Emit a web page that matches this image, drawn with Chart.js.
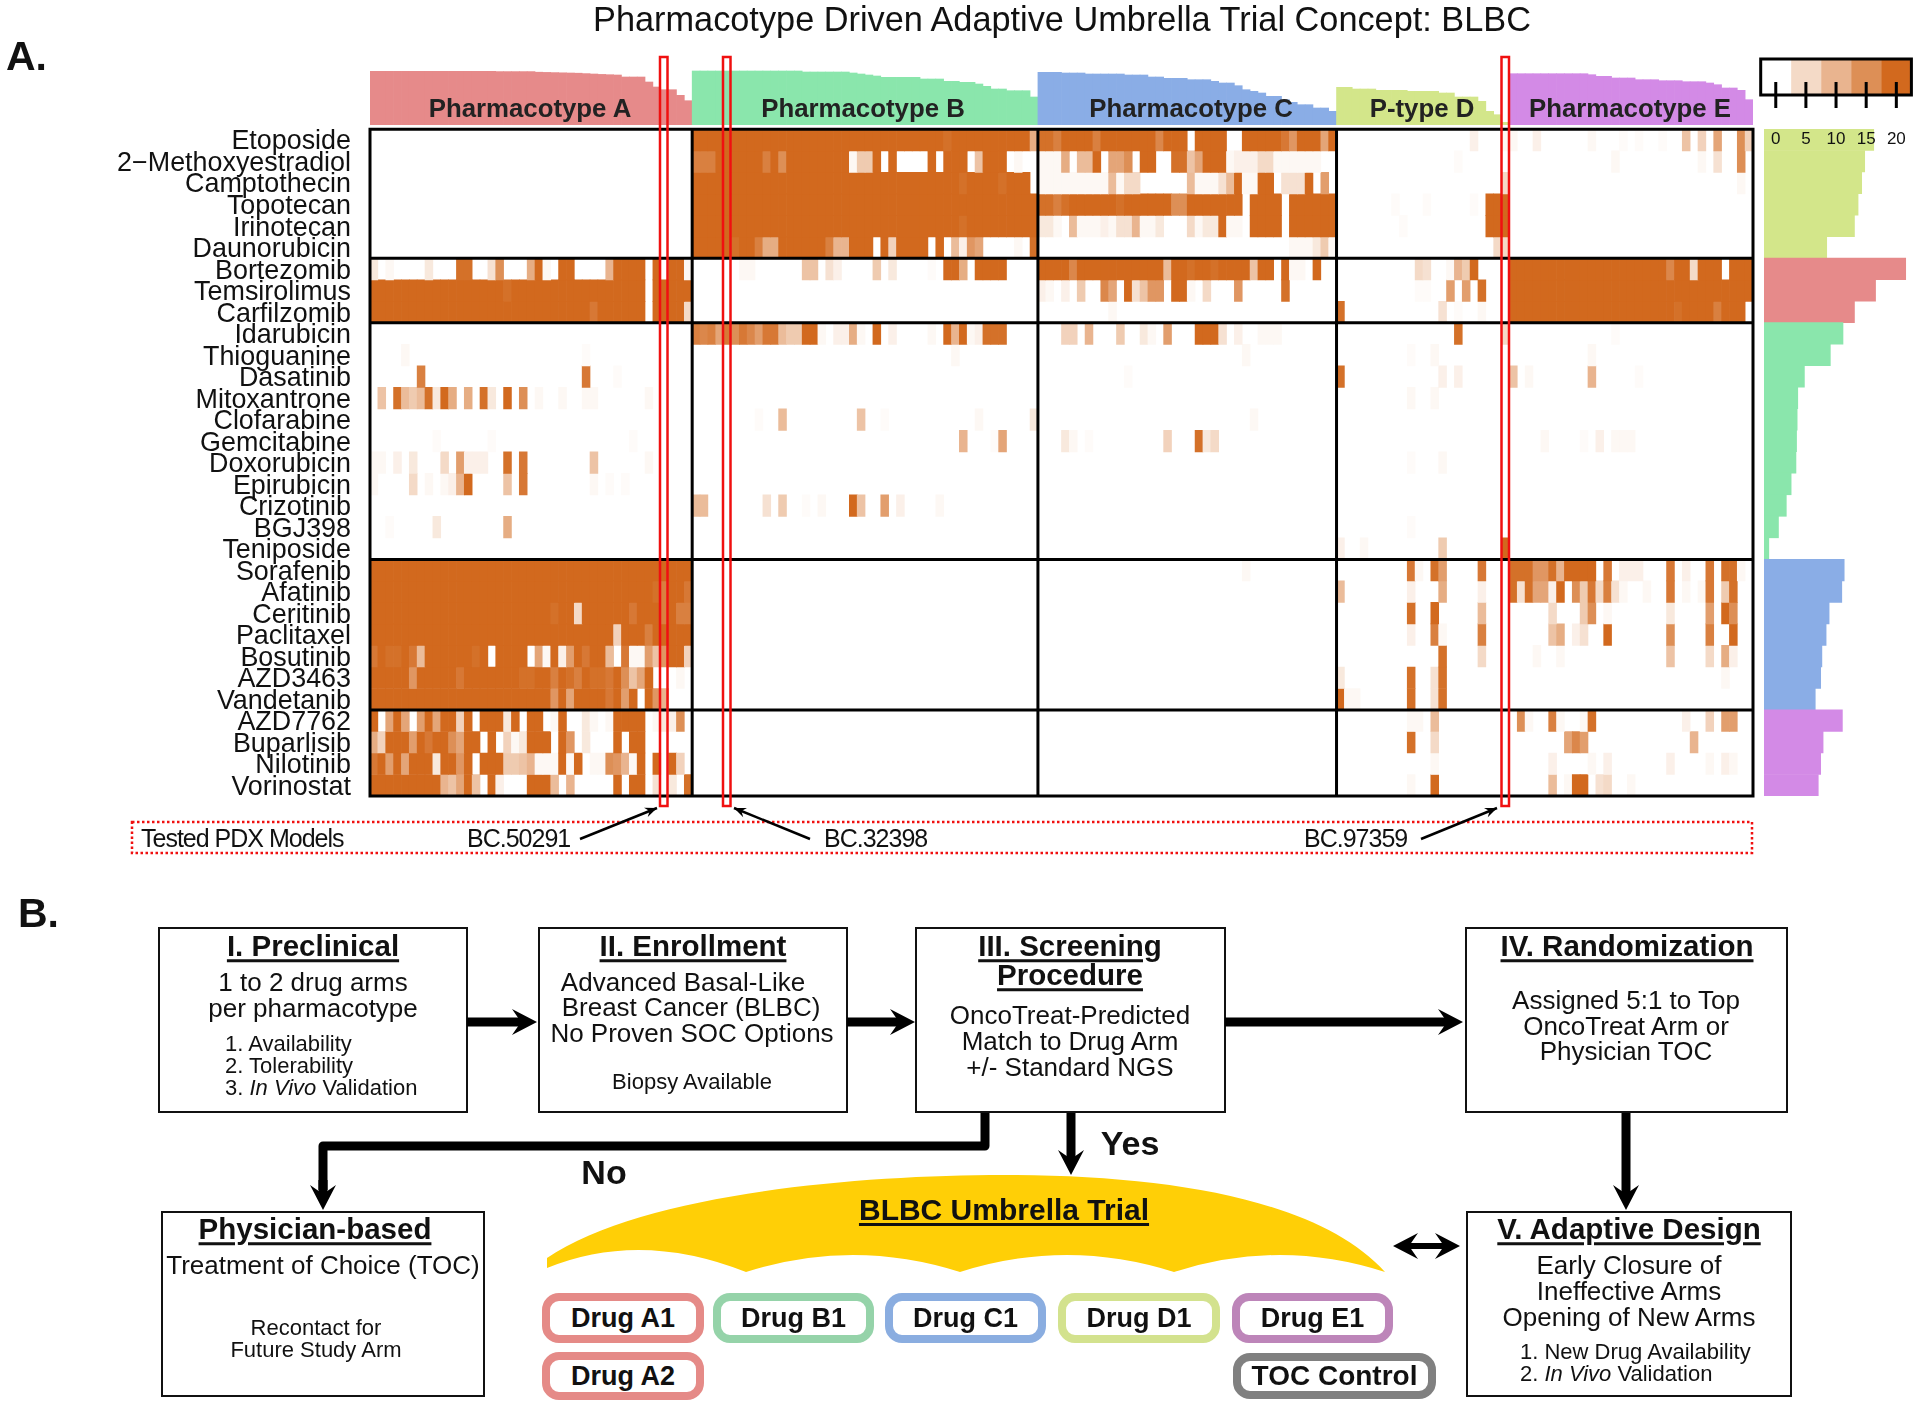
<!DOCTYPE html>
<html>
<head>
<meta charset="utf-8">
<title>Pharmacotype Driven Adaptive Umbrella Trial Concept: BLBC</title>
<script src="https://cdn.jsdelivr.net/npm/chart.js@4/dist/chart.umd.js"></script>
<style>
  html, body { margin: 0; padding: 0; background: #fff; }
  #page { position: relative; width: 1920px; height: 1407px; overflow: hidden; font-family: "Liberation Sans", Arial, sans-serif; color: #111; }
  canvas { position: absolute; }
  svg { position: absolute; left: 0; top: 0; }
  .t { position: absolute; white-space: nowrap; transform: translate(-50%, -50%); line-height: 1; }
  .l { position: absolute; white-space: nowrap; transform: translateY(-50%); line-height: 1; }
  .head { font-weight: bold; font-size: 29.5px; text-decoration: underline; text-decoration-thickness: 3px; text-underline-offset: 3px; }
  .body { font-size: 26px; }
  .small { font-size: 22px; }
  .type { font-weight: bold; font-size: 25.8px; color: #222; }
  .tight { font-size: 25px; letter-spacing: -1px; }
  .box { position: absolute; box-sizing: border-box; border: 2.5px solid #111; background: #fff; }
  .pill { position: absolute; box-sizing: border-box; border-style: solid; border-width: 8px; border-radius: 17px; background: #fff;
          display: flex; align-items: center; justify-content: center; font-weight: bold; font-size: 27px; }
</style>
</head>
<body>
<div id="page">
  <canvas id="topChart" width="1383" height="60" style="left:370px;top:65.3px"></canvas>
  <canvas id="heatChart" width="1760" height="700" style="left:0;top:120px"></canvas>
  <canvas id="sideChart" width="156" height="667" style="left:1764px;top:129.3px"></canvas>
  <canvas id="legendChart" width="170" height="110" style="left:1750px;top:50px"></canvas>

  <div class="box" style="left:158px;top:927px;width:310px;height:186px"></div>
  <div class="box" style="left:538px;top:927px;width:310px;height:186px"></div>
  <div class="box" style="left:915px;top:927px;width:311px;height:186px"></div>
  <div class="box" style="left:1465px;top:927px;width:323px;height:186px"></div>
  <div class="box" style="left:161px;top:1211px;width:324px;height:186px"></div>
  <div class="box" style="left:1466px;top:1211px;width:326px;height:186px"></div>

  <svg id="overlay" width="1920" height="1407" viewBox="0 0 1920 1407">
    <path d="M547,1268 L547,1258 C640,1195 850,1175 1004,1175 C1170,1175 1320,1200 1385,1272 Q1280,1238 1174,1272 Q1067,1238 960,1272 Q853,1238 746,1272 Q640,1230 547,1268 Z" fill="#FFCF06"/>
    <rect x="660" y="57" width="7.5" height="749" fill="none" stroke="#f01010" stroke-width="2.5"/>
    <rect x="723" y="57" width="7.5" height="749" fill="none" stroke="#f01010" stroke-width="2.5"/>
    <rect x="1501.5" y="57" width="7.5" height="749" fill="none" stroke="#f01010" stroke-width="2.5"/>
    <rect x="132" y="822" width="1620" height="31" fill="none" stroke="#f01010" stroke-width="2.5" stroke-dasharray="2.5 2.5"/>
    <polyline points="985,1113 985,1146 323,1146 323,1190" fill="none" stroke="#000" stroke-width="9" stroke-linejoin="round"/>
  </svg>

  <div class="t" style="left:1062px;top:19px;font-size:34.3px">Pharmacotype Driven Adaptive Umbrella Trial Concept: BLBC</div>
  <div class="l" style="left:6px;top:56px;font-size:41px;font-weight:bold">A.</div>
  <div class="l" style="left:18px;top:913px;font-size:41px;font-weight:bold">B.</div>

  <div class="t type" style="left:530px;top:109px">Pharmacotype A</div>
  <div class="t type" style="left:863px;top:109px">Pharmacotype B</div>
  <div class="t type" style="left:1191px;top:109px">Pharmacotype C</div>
  <div class="t type" style="left:1422px;top:109px">P-type D</div>
  <div class="t type" style="left:1630px;top:109px">Pharmacotype E</div>

  <div class="l tight" style="left:141px;top:838px">Tested PDX Models</div>
  <div class="l tight" style="left:467px;top:838px">BC.50291</div>
  <div class="l tight" style="left:824px;top:838px">BC.32398</div>
  <div class="l tight" style="left:1304px;top:838px">BC.97359</div>

  <div class="t head" style="left:313px;top:946px">I. Preclinical</div>
  <div class="t body" style="left:313px;top:982px">1 to 2 drug arms</div>
  <div class="t body" style="left:313px;top:1008px">per pharmacotype</div>
  <div class="l small" style="left:225px;top:1044px">1. Availability</div>
  <div class="l small" style="left:225px;top:1066px">2. Tolerability</div>
  <div class="l small" style="left:225px;top:1088px">3. <i>In Vivo</i> Validation</div>

  <div class="t head" style="left:693px;top:946px">II. Enrollment</div>
  <div class="t body" style="left:683px;top:982px">Advanced Basal-Like</div>
  <div class="t body" style="left:691px;top:1007px">Breast Cancer (BLBC)</div>
  <div class="t body" style="left:692px;top:1033px">No Proven SOC Options</div>
  <div class="t small" style="left:692px;top:1082px">Biopsy Available</div>

  <div class="t head" style="left:1070px;top:946px">III. Screening</div>
  <div class="t head" style="left:1070px;top:975px">Procedure</div>
  <div class="t body" style="left:1070px;top:1015px">OncoTreat-Predicted</div>
  <div class="t body" style="left:1070px;top:1041px">Match to Drug Arm</div>
  <div class="t body" style="left:1070px;top:1067px">+/- Standard NGS</div>

  <div class="t head" style="left:1627px;top:946px">IV. Randomization</div>
  <div class="t body" style="left:1626px;top:1000px">Assigned 5:1 to Top</div>
  <div class="t body" style="left:1626px;top:1026px">OncoTreat Arm or</div>
  <div class="t body" style="left:1626px;top:1051px">Physician TOC</div>

  <div class="t head" style="left:315px;top:1229px">Physician-based</div>
  <div class="t body" style="left:323px;top:1265px">Treatment of Choice (TOC)</div>
  <div class="t small" style="left:316px;top:1328px">Recontact for</div>
  <div class="t small" style="left:316px;top:1350px">Future Study Arm</div>

  <div class="t head" style="left:1629px;top:1229px">V. Adaptive Design</div>
  <div class="t body" style="left:1629px;top:1265px">Early Closure of</div>
  <div class="t body" style="left:1629px;top:1291px">Ineffective Arms</div>
  <div class="t body" style="left:1629px;top:1317px">Opening of New Arms</div>
  <div class="l small" style="left:1520px;top:1352px">1. New Drug Availability</div>
  <div class="l small" style="left:1520px;top:1374px">2. <i>In Vivo</i> Validation</div>

  <div class="t" style="left:1130px;top:1143px;font-size:34px;font-weight:bold">Yes</div>
  <div class="t" style="left:604px;top:1172px;font-size:34px;font-weight:bold">No</div>
  <div class="t" style="left:1004px;top:1210px;font-size:30px;font-weight:bold;text-decoration:underline;text-underline-offset:3px">BLBC Umbrella Trial</div>

  <div class="pill" style="left:542px;top:1293px;width:162px;height:50px;border-color:#E58A87">Drug A1</div>
  <div class="pill" style="left:713px;top:1293px;width:161px;height:50px;border-color:#95D3A9">Drug B1</div>
  <div class="pill" style="left:885px;top:1293px;width:161px;height:50px;border-color:#8AADE0">Drug C1</div>
  <div class="pill" style="left:1058px;top:1293px;width:162px;height:50px;border-color:#D3E28E">Drug D1</div>
  <div class="pill" style="left:1232px;top:1293px;width:161px;height:50px;border-color:#BD85B9">Drug E1</div>
  <div class="pill" style="left:542px;top:1352px;width:162px;height:48px;border-color:#E58A87">Drug A2</div>
  <div class="pill" style="left:1233px;top:1353px;width:203px;height:46px;border-color:#808080;font-size:28px">TOC Control</div>
</div>

<script>
// row labels
const drugs = ['Etoposide', '2\u2212Methoxyestradiol', 'Camptothecin', 'Topotecan', 'Irinotecan', 'Daunorubicin',
	'Bortezomib', 'Temsirolimus', 'Carfilzomib',
	'Idarubicin', 'Thioguanine', 'Dasatinib', 'Mitoxantrone', 'Clofarabine', 'Gemcitabine', 'Doxorubicin', 'Epirubicin', 'Crizotinib', 'BGJ398', 'Teniposide',
	'Sorafenib', 'Afatinib', 'Ceritinib', 'Paclitaxel', 'Bosutinib', 'AZD3463', 'Vandetanib',
	'AZD7762', 'Buparlisib', 'Nilotinib', 'Vorinostat'];
const rowBreaks = [0, 6, 9, 20, 27, 31];

// models per pharmacotype, and the lines between them (D and E share no line)
const sectionSizes = [41, 44, 38, 22, 31];
const columnBreaks = [0, 41, 85, 123, 176];

// heat cells as [row, fromColumn, toColumn, value], columns counted inside each pharmacotype, later runs overwrite
const cellsA = [
	[6,0,0,3],[6,2,2,1],[6,7,7,3],[6,11,12,19],[6,15,15,4],[6,16,16,15],[6,20,20,11],[6,21,21,20],[6,22,22,1],[6,24,25,20],[6,30,30,10],[6,31,34,20],[6,36,36,20],[6,38,39,20],[6,40,40,1],
	[7,0,40,20],[7,17,17,19],[7,35,35,0],
	[8,0,40,20],[8,28,28,18],[8,35,35,0],[8,40,40,5],
	[10,4,4,1],[10,27,27,0.5],
	[11,6,6,17],[11,27,27,18],[11,31,31,0.5],
	[12,1,1,8],[12,3,3,19],[12,4,4,9],[12,5,5,7],[12,6,6,9],[12,7,7,19],[12,8,8,3],[12,9,9,20],[12,10,10,11],[12,12,12,11],[12,14,14,19],[12,15,15,3],[12,17,17,20],[12,19,19,15],[12,21,21,1],[12,24,24,1],[12,27,28,1],[12,35,35,1],
	[14,8,8,0.5],[14,15,15,0.5],[14,33,33,0.5],
	[15,0,1,1],[15,3,3,2],[15,5,5,3],[15,9,9,5],[15,11,11,13],[15,12,14,2],[15,17,17,19],[15,19,19,18],[15,28,28,8],[15,35,35,1],
	[16,0,0,1],[16,5,5,5],[16,7,7,1],[16,9,9,1],[16,10,10,2],[16,11,11,10],[16,12,12,20],[16,17,17,8],[16,19,19,18],[16,28,28,1],[16,30,30,0.5],[16,32,32,0.5],
	[18,2,2,0.5],[18,8,8,3],[18,17,17,11],
	[20,0,40,20],
	[21,0,40,20],[21,36,36,19],[21,37,37,17],[21,40,40,18],
	[22,0,40,20],[22,23,23,19],[22,26,26,5],[22,33,33,18],[22,37,37,17],[22,39,40,17],
	[23,0,40,20],[23,31,31,6],[23,35,35,17],
	[24,0,40,20],[24,0,0,18],[24,2,3,19],[24,5,5,18],[24,6,6,9],[24,13,13,19],[24,15,15,0],[24,20,20,0],[24,21,21,12],[24,22,22,1],[24,24,24,2],[24,25,25,13],[24,27,27,18],[24,30,30,9],[24,31,31,0],[24,32,32,18],[24,33,34,1],[24,35,35,13],[24,36,36,8],[24,37,37,14],[24,40,40,6],
	[25,0,40,20],[25,5,5,14],[25,11,11,18],[25,19,20,19],[25,23,23,17],[25,25,25,19],[25,26,26,17],[25,28,29,19],[25,30,30,18],[25,32,32,15],[25,33,33,8],[25,34,34,12],[25,36,38,0],[25,39,39,1],[25,40,40,0],
	[26,0,40,20],[26,23,23,14],[26,25,25,12],[26,30,30,18],[26,32,32,13],[26,34,34,0],[26,36,36,14],[26,37,37,10],[26,38,40,0],
	[27,0,0,20],[27,2,2,12],[27,3,3,20],[27,4,4,12],[27,6,6,13],[27,7,7,20],[27,8,8,12],[27,9,10,20],[27,11,11,6],[27,12,12,20],[27,14,16,20],[27,17,17,3],[27,18,18,20],[27,20,21,20],[27,23,23,1],[27,24,24,20],[27,27,27,3],[27,28,28,1],[27,30,30,1],[27,31,34,20],[27,36,36,1],[27,37,37,3],[27,38,38,2],[27,39,39,15],
	[28,0,0,11],[28,1,1,6],[28,2,4,20],[28,5,5,13],[28,6,6,20],[28,7,7,18],[28,8,9,20],[28,10,10,15],[28,11,11,12],[28,12,13,20],[28,15,15,20],[28,17,17,6],[28,18,18,1],[28,19,19,3],[28,20,22,20],[28,24,24,20],[28,25,25,14],[28,27,27,3],[28,31,31,20],[28,33,34,20],
	[29,0,0,18],[29,1,1,20],[29,2,2,13],[29,3,3,20],[29,4,4,12],[29,5,7,20],[29,8,8,3],[29,9,10,20],[29,11,11,14],[29,12,12,20],[29,14,16,20],[29,17,18,7],[29,19,19,8],[29,20,20,10],[29,21,23,1],[29,24,24,20],[29,25,25,1],[29,26,26,20],[29,28,29,1],[29,30,30,15],[29,31,31,14],[29,32,32,10],[29,33,33,1],[29,34,34,20],[29,36,36,20],[29,38,38,20],[29,39,39,6],
	[30,0,8,20],[30,9,9,10],[30,10,10,8],[30,11,11,12],[30,12,12,20],[30,13,13,8],[30,15,15,20],[30,16,16,2],[30,20,22,20],[30,23,23,9],[30,25,25,10],[30,31,31,20],[30,33,34,20],[30,36,36,4],[30,38,38,3],[30,40,40,19]
];
const cellsB = [
	[0,0,42,20],[0,32,32,19],[0,43,43,11],
	[1,0,2,17],[1,3,19,20],[1,9,9,17],[1,11,11,15],[1,20,20,1],[1,21,22,7],[1,23,23,20],[1,25,25,20],[1,30,30,20],[1,32,34,20],[1,36,36,8],[1,37,39,20],[1,41,41,1],
	[2,0,42,20],[2,34,34,19],[2,39,39,19],
	[3,0,43,20],
	[4,0,43,20],[4,34,34,19],
	[5,0,22,20],[5,5,5,19],[5,8,8,17],[5,9,10,11],[5,17,17,17],[5,18,19,10],[5,24,24,20],[5,25,25,6],[5,26,29,20],[5,31,31,20],[5,33,33,9],[5,34,34,2],[5,35,35,14],[5,36,36,12],[5,41,41,1],[5,43,43,19],
	[6,6,7,1],[6,14,15,8],[6,17,17,4],[6,18,18,2],[6,23,23,7],[6,25,25,3],[6,30,30,0.5],[6,32,33,20],[6,34,34,11],[6,36,39,20],
	[9,0,0,17],[9,1,1,16],[9,2,2,17],[9,3,3,12],[9,4,4,18],[9,5,5,15],[9,6,6,18],[9,7,7,16],[9,8,8,13],[9,9,10,18],[9,11,11,9],[9,12,13,7],[9,14,15,20],[9,16,16,1],[9,18,19,2],[9,20,20,11],[9,21,21,1],[9,23,23,20],[9,25,25,2],[9,30,30,1],[9,32,32,20],[9,33,33,10],[9,34,34,20],[9,35,35,1],[9,36,36,2],[9,37,39,19],
	[10,33,33,1],
	[13,8,8,0.5],[13,11,11,9],[13,21,21,8],[13,24,24,0.5],[13,36,36,1],[13,43,43,3],
	[14,34,34,10],[14,38,38,0.5],[14,39,39,12],
	[17,0,1,9],[17,9,9,4],[17,11,11,7],[17,14,14,0.5],[17,16,16,1],[17,20,20,20],[17,21,21,8],[17,24,24,13],[17,26,26,2],[17,31,31,1]
];
const cellsC = [
	[0,0,18,20],[0,0,1,19],[0,2,2,17],[0,7,7,17],[0,15,15,16],[0,20,23,20],[0,26,30,20],[0,31,31,18],[0,32,32,14],[0,33,35,20],[0,36,36,12],[0,37,37,20],
	[1,0,2,1],[1,3,3,11],[1,5,6,9],[1,7,7,20],[1,9,10,12],[1,11,11,15],[1,13,14,20],[1,17,18,19],[1,19,19,8],[1,20,20,12],[1,21,23,20],[1,24,24,1],[1,25,27,2],[1,28,29,5],[1,30,35,1],
	[2,0,8,1],[2,9,9,9],[2,10,10,1],[2,11,12,5],[2,19,19,9],[2,20,22,1],[2,23,23,4],[2,24,24,9],[2,25,25,20],[2,26,27,1],[2,28,29,20],[2,31,33,4],[2,34,34,20],[2,36,36,13],
	[3,0,25,20],[3,0,1,19],[3,2,2,17],[3,3,3,19],[3,10,10,19],[3,17,18,15],[3,27,30,20],[3,32,37,20],
	[4,0,1,3],[4,2,2,1],[4,4,4,9],[4,5,7,1],[4,8,8,2],[4,9,9,1],[4,10,11,4],[4,12,12,10],[4,13,14,1],[4,15,15,3],[4,19,19,5],[4,20,20,1],[4,21,22,3],[4,23,23,20],[4,24,25,1],[4,27,30,20],[4,32,37,20],
	[5,32,34,1],[5,35,35,3],[5,36,36,7],[5,37,37,1],
	[6,0,26,20],[6,4,4,16],[6,16,16,9],[6,19,19,19],[6,22,22,19],[6,27,27,8],[6,28,29,20],[6,31,31,20],[6,32,33,1],[6,35,35,20],
	[7,0,0,2],[7,1,1,1],[7,3,3,2],[7,5,5,7],[7,8,8,16],[7,9,9,12],[7,11,11,20],[7,12,12,4],[7,13,13,8],[7,14,15,14],[7,17,18,20],[7,19,19,1],[7,21,21,5],[7,25,25,14],[7,31,31,19],
	[8,9,9,1],
	[9,3,4,6],[9,6,6,10],[9,10,10,7],[9,13,13,3],[9,14,14,1],[9,16,16,13],[9,20,22,20],[9,23,23,4],[9,25,25,2],[9,28,30,1],
	[10,26,26,1],
	[11,11,11,0.5],
	[13,27,27,1],
	[14,3,3,3],[14,4,4,1],[14,6,6,0.5],[14,16,16,6],[14,20,20,19],[14,21,21,3],[14,22,22,5],
	[20,26,26,1]
];
const cellsD = [
	[0,17,17,2],[0,21,21,1],
	[1,15,15,0.5],
	[2,21,21,5],
	[3,7,7,0.5],[3,11,11,0.5],[3,17,17,0.5],[3,19,21,20],
	[4,8,8,0.5],[4,19,21,20],
	[5,20,21,5],
	[6,10,10,5],[6,11,11,4],[6,14,14,1],[6,15,15,10],[6,16,16,7],[6,17,17,20],
	[7,10,11,0.5],[7,14,14,13],[7,16,16,13],[7,18,18,19],
	[8,0,0,19],[8,13,13,4],[8,15,15,0.5],[8,18,18,1],
	[9,15,15,19],[9,21,21,5],
	[10,9,9,0.5],[10,12,12,1],
	[11,0,0,19],[11,13,13,2],[11,15,15,2],
	[12,9,9,1],[12,12,12,1],
	[15,9,9,0.5],[15,13,13,1],
	[18,9,9,0.5],
	[19,0,0,2],[19,3,3,1],[19,13,13,7],[19,21,21,20],
	[20,9,9,18],[20,10,10,1],[20,12,12,19],[20,13,13,13],[20,18,18,18],
	[21,0,0,9],[21,9,9,2],[21,13,13,11],[21,18,18,2],
	[22,9,9,19],[22,12,12,20],[22,18,18,9],
	[23,9,9,2],[23,12,12,17],[23,13,13,1],[23,18,18,17],
	[24,13,13,19],[24,18,18,5],
	[25,0,0,3],[25,9,9,19],[25,12,12,4],[25,13,13,19],
	[26,0,0,20],[26,1,2,1],[26,9,9,19],[26,12,12,4],[26,13,13,19],
	[27,9,10,1],[27,12,12,9],
	[28,9,9,19],[28,12,12,5],
	[29,12,12,1],
	[30,9,9,1],[30,12,12,20]
];
const cellsE = [
	[0,0,0,1],[0,3,3,2],[0,10,10,1],[0,14,14,0.5],[0,16,16,0.5],[0,19,19,0.5],[0,22,22,8],[0,24,24,6],[0,26,26,12],[0,29,29,15],[0,30,30,6],
	[1,13,13,1],[1,24,24,1],[1,26,26,4],[1,29,29,15],
	[2,29,29,1],
	[6,0,30,20],[6,20,20,16],[6,23,23,5],[6,27,27,0],
	[7,0,30,20],
	[8,0,29,20],[8,21,21,19],[8,26,26,17],
	[9,13,13,0.5],
	[10,10,10,1],
	[11,0,0,8],[11,2,2,1],[11,10,10,10],[11,16,16,0.5],
	[14,4,4,1],[14,9,9,0.5],[14,11,11,2],[14,13,15,1],
	[20,0,2,19],[20,3,4,14],[20,5,5,19],[20,6,6,10],[20,7,10,20],[20,12,12,18],[20,14,16,2],[20,20,20,18],[20,22,22,2],[20,25,25,18],[20,27,28,19],[20,29,29,1],
	[21,0,0,19],[21,1,1,4],[21,2,2,19],[21,3,4,12],[21,5,5,2],[21,6,6,20],[21,8,8,15],[21,9,9,7],[21,10,10,18],[21,11,11,5],[21,12,12,17],[21,13,13,4],[21,14,14,1],[21,17,17,1],[21,20,20,18],[21,22,22,1],[21,24,24,1],[21,25,25,18],[21,27,27,7],[21,28,28,19],
	[22,5,5,5],[22,9,9,7],[22,10,10,15],[22,12,12,1],[22,20,20,3],[22,25,25,13],[22,27,27,20],[22,28,28,15],
	[23,5,5,8],[23,6,6,11],[23,8,8,2],[23,9,9,4],[23,12,12,20],[23,20,20,15],[23,25,25,17],[23,28,28,20],
	[24,3,3,1],[24,6,6,1],[24,20,20,8],[24,25,25,5],[24,27,27,11],[24,28,28,2],
	[25,27,27,1],
	[27,1,1,15],[27,2,2,1],[27,5,5,17],[27,6,6,1],[27,9,9,1],[27,10,10,19],[27,22,22,2],[27,25,25,6],[27,27,28,13],
	[28,7,7,12],[28,8,8,16],[28,9,9,13],[28,23,23,10],
	[29,5,5,2],[29,10,10,1],[29,12,12,2],[29,20,20,2],[29,25,25,1],[29,27,27,2],[29,28,28,1],
	[30,5,5,9],[30,7,7,1],[30,8,9,20],[30,11,11,4],[30,12,12,5],[30,15,15,1]
];

// bars above the heatmap, one per model
const scoresA = [53.7,53.7,53.7,53.7,53.7,53.7,53.7,53.7,53.7,53.7,53.7,53.7,53.7,53.7,53.7,53.7,53.4,53.4,53.4,53.4,53.4,52.8,52.6,52.4,52.2,52,51.8,51.4,51,50.6,50.3,50,48,48,48,43,38,35.3,35.3,29.7,24.3];
const scoresB = [54,54,54,54,54,54,54,54,54,54,54,54,54,54,53,53,53,53,53,53,52,51,50,49,47.7,47.7,47.7,47.7,47.7,46,46,46,43.7,43.7,42.7,42.7,41,38.7,36,36,34.3,34.3,34.3,28];
const scoresC = [52.7,52.7,52.7,52,52,52,51,51,51,51,51,50,50,50,48,48,46.7,46.7,46.7,45.3,45.3,45.3,43.7,42,42,39.3,35.3,33.7,32,28.7,28.7,25.3,22.7,20.3,20.3,17,17,13.7];
const scoresD = [37.7,37.7,36,36,36,34.7,34.7,34.7,34.7,33.7,33.7,33.7,33.7,32,32,28,28,28,23.7,13.7,10.3,2.7];
const scoresE = [51.3,51.3,51.3,51.3,51.3,51.3,51.3,51.3,51.3,51.3,50.3,48.7,48.7,47,47,47,45.3,45.3,45.3,44.3,44.3,44.3,43.3,43.3,43.3,42,40.3,37,37,34.7,25.3];

// bars right of the heatmap, one per drug
const drugTotals = [18.2,16.7,16.2,15.6,15,10.4, 23.5,18.5,15, 13.1,11,6.7,5.6,5.5,5.4,5.3,4.5,3.7,2.4,0.8, 13.3,12.9,10.8,10.3,9.6,9.4,8.5, 13,9.8,9.4,9];
const drugGroupSizes = [6, 3, 11, 7, 4];

// colour key
const legendTicks = [0, 5, 10, 15, 20];
const legendBins = [[-2.5, 2.5], [2.5, 7.5], [7.5, 12.5], [12.5, 17.5], [17.5, 22.5]];

const sectionColors = ['#E68A8A', '#8AE6AC', '#8AADE6', '#D3E68A', '#D38AE6'];
const sideGroupColors = ['#D3E68A', '#E68A8A', '#8AE6AC', '#8AADE6', '#D38AE6'];

const heatColor = value => {
	const t = Math.min(value, 20) / 20;
	return `rgb(${Math.round(255 - 45 * t)}, ${Math.round(255 - 150 * t)}, ${Math.round(255 - 225 * t)})`;
};

const columnCount = sectionSizes.reduce((a, b) => a + b, 0);
const models = Array.from({ length: columnCount }, (_, i) => `model ${i + 1}`);
const matrix = drugs.map(() => new Array(columnCount).fill(0));

let sectionStart = 0;
[cellsA, cellsB, cellsC, cellsD, cellsE].forEach((cells, s) => {
	cells.forEach(([row, from, to, value]) => {
		for (let c = from; c <= to; c++) matrix[row][sectionStart + c] = value;
	});
	sectionStart += sectionSizes[s];
});

const heatDatasets = drugs.map((drug, row) => ({
	label: drug,
	data: matrix[row].map(v => (v > 0 ? [row, row + 1] : null)),
	backgroundColor: matrix[row].map(heatColor),
	borderWidth: 0,
	barPercentage: 1,
	categoryPercentage: 1,
}));

const framePlugin = {
	id: 'frame',
	afterDatasetsDraw(chart) {
		const { ctx, chartArea: area, scales } = chart;
		ctx.save();
		ctx.strokeStyle = '#000';
		ctx.lineWidth = 3;
		ctx.beginPath();
		rowBreaks.forEach(b => {
			const y = scales.y.getPixelForValue(b);
			ctx.moveTo(area.left - 1.5, y);
			ctx.lineTo(area.right + 1.5, y);
		});
		columnBreaks.forEach(b => {
			const x = area.left + (b / columnCount) * area.width;
			ctx.moveTo(x, area.top);
			ctx.lineTo(x, area.bottom);
		});
		ctx.stroke();
		ctx.restore();
	},
};

new Chart(document.querySelector('#heatChart'), {
	type: 'bar',
	data: { labels: models, datasets: heatDatasets },
	plugins: [framePlugin],
	options: {
		responsive: false,
		animation: false,
		devicePixelRatio: 1,
		layout: { padding: { top: 9.3, bottom: 24, right: 7, left: 0 } },
		plugins: { legend: { display: false }, tooltip: { enabled: false } },
		datasets: { bar: { grouped: false } },
		scales: {
			x: { display: false, grid: { display: false } },
			y: {
				type: 'linear',
				reverse: true,
				min: 0,
				max: drugs.length,
				grid: { display: false },
				border: { display: false },
				afterFit: axis => {
					axis.width = 370;
					axis.paddingTop = 0;
					axis.paddingBottom = 0;
				},
				afterBuildTicks: axis => { axis.ticks = drugs.map((_, i) => ({ value: i + 0.5 })); },
				ticks: {
					autoSkip: false,
					padding: 11,
					labelOffset: 2,
					color: '#111',
					font: { family: '"Liberation Sans", Arial, sans-serif', size: 26.9 },
					callback: (value, index) => drugs[index],
				},
			},
		},
	},
});

const scores = [...scoresA, ...scoresB, ...scoresC, ...scoresD, ...scoresE];
const scoreColors = sectionSizes.flatMap((size, s) => new Array(size).fill(sectionColors[s]));

new Chart(document.querySelector('#topChart'), {
	type: 'bar',
	data: {
		labels: models,
		datasets: [{ data: scores, backgroundColor: scoreColors, borderWidth: 0, barPercentage: 1, categoryPercentage: 1 }],
	},
	options: {
		responsive: false,
		animation: false,
		devicePixelRatio: 1,
		plugins: { legend: { display: false }, tooltip: { enabled: false } },
		scales: {
			x: { display: false },
			y: { display: false, min: 0, max: 60 },
		},
	},
});

const sideColors = drugGroupSizes.flatMap((size, g) => new Array(size).fill(sideGroupColors[g]));

new Chart(document.querySelector('#sideChart'), {
	type: 'bar',
	data: {
		labels: drugs,
		datasets: [{ data: drugTotals, backgroundColor: sideColors, borderWidth: 0, barPercentage: 1, categoryPercentage: 1 }],
	},
	options: {
		indexAxis: 'y',
		responsive: false,
		animation: false,
		devicePixelRatio: 1,
		plugins: { legend: { display: false }, tooltip: { enabled: false } },
		scales: {
			x: { display: false, min: 0, max: 25.87 },
			y: { display: false },
		},
	},
});

const legendFramePlugin = {
	id: 'legendFrame',
	afterDatasetsDraw(chart) {
		const { ctx, chartArea: area, scales } = chart;
		ctx.save();
		ctx.strokeStyle = '#000';
		ctx.lineWidth = 3;
		ctx.strokeRect(area.left, area.top, area.width, area.height);
		ctx.beginPath();
		legendTicks.forEach(v => {
			const x = scales.x.getPixelForValue(v);
			ctx.moveTo(x, area.bottom - 13);
			ctx.lineTo(x, area.bottom + 13);
		});
		ctx.stroke();
		ctx.restore();
	},
};

new Chart(document.querySelector('#legendChart'), {
	type: 'bar',
	data: {
		labels: ['key'],
		datasets: legendBins.map((bin, i) => ({
			data: [bin],
			backgroundColor: heatColor(legendTicks[i]),
			borderWidth: 0,
			barPercentage: 1,
			categoryPercentage: 1,
		})),
	},
	plugins: [legendFramePlugin],
	options: {
		indexAxis: 'y',
		responsive: false,
		animation: false,
		devicePixelRatio: 1,
		layout: { padding: { top: 9, left: 10.7, right: 8.6, bottom: 0 } },
		plugins: { legend: { display: false }, tooltip: { enabled: false } },
		datasets: { bar: { grouped: false } },
		scales: {
			y: { display: false },
			x: {
				type: 'linear',
				min: -2.5,
				max: 22.5,
				grid: { display: false },
				border: { display: false },
				afterFit: axis => {
					axis.height = 65;
					axis.paddingLeft = 0;
					axis.paddingRight = 0;
				},
				afterBuildTicks: axis => { axis.ticks = legendTicks.map(value => ({ value })); },
				ticks: {
					autoSkip: false,
					maxRotation: 0,
					padding: 26,
					color: '#111',
					font: { family: '"Liberation Sans", Arial, sans-serif', size: 17 },
				},
			},
		},
	},
});

// flow chart arrows
const overlay = document.querySelector('#overlay');

const addPath = (d, attrs) => {
	const path = document.createElementNS('http://www.w3.org/2000/svg', 'path');
	path.setAttribute('d', d);
	Object.entries(attrs).forEach(([k, v]) => path.setAttribute(k, v));
	overlay.appendChild(path);
};

const arrowHead = (x, y, dx, dy) => {
	// notched head with tip at x,y pointing along dx,dy
	const len = 25, half = 13, notch = 16;
	const px = -dy, py = dx;
	const bx = x - dx * len, by = y - dy * len;
	const nx = x - dx * notch, ny = y - dy * notch;
	return `M${x},${y} L${bx + px * half},${by + py * half} L${nx},${ny} L${bx - px * half},${by - py * half} Z`;
};

const arrow = (x1, y1, x2, y2, width) => {
	const length = Math.hypot(x2 - x1, y2 - y1);
	const dx = (x2 - x1) / length, dy = (y2 - y1) / length;
	addPath(`M${x1},${y1} L${x2 - dx * 14},${y2 - dy * 14}`, { stroke: '#000', 'stroke-width': width, fill: 'none' });
	addPath(arrowHead(x2, y2, dx, dy), { fill: '#000' });
};

arrow(467, 1022, 537, 1022, 9);
arrow(847, 1022, 915, 1022, 9);
arrow(1225, 1022, 1463, 1022, 9);
arrow(1071, 1113, 1071, 1175, 9);
arrow(1626, 1113, 1626, 1210, 9);
arrow(323, 1180, 323, 1210, 9);
arrow(1426, 1246, 1393, 1246, 6);
arrow(1426, 1246, 1460, 1246, 6);

// thin pointers from the model names to the red frames
const pointer = (x1, y1, x2, y2) => {
	const length = Math.hypot(x2 - x1, y2 - y1);
	const dx = (x2 - x1) / length, dy = (y2 - y1) / length;
	addPath(`M${x1},${y1} L${x2},${y2}`, { stroke: '#000', 'stroke-width': 2.5, fill: 'none' });
	const bx = x2 - dx * 12, by = y2 - dy * 12;
	addPath(`M${x2},${y2} L${bx - dy * 5},${by + dx * 5} L${x2 - dx * 8},${y2 - dy * 8} L${bx + dy * 5},${by - dx * 5} Z`, { fill: '#000' });
};

pointer(580, 839, 657, 808);
pointer(810, 839, 734, 808);
pointer(1421, 839, 1497, 808);
</script>
</body>
</html>
